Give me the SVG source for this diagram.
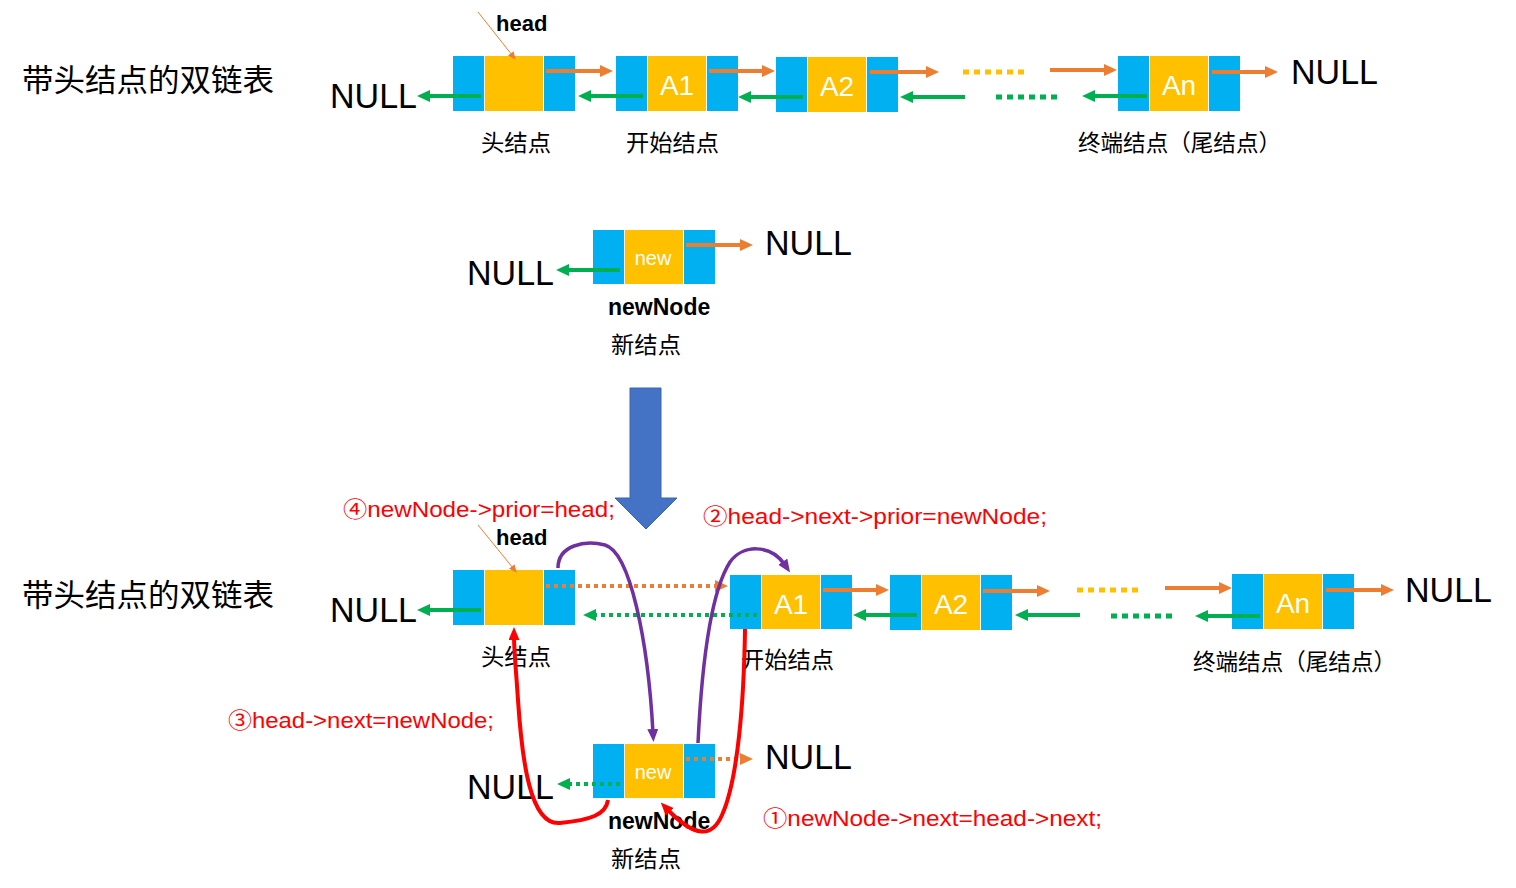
<svg xmlns="http://www.w3.org/2000/svg" width="1516" height="888" viewBox="0 0 1516 888">
<style>
.b{fill:#00B0F0}
.y{fill:#FFC000}
.cn{font-family:"Noto Sans CJK SC","Noto Sans",sans-serif;fill:#000}
.nl{font-family:"Liberation Sans",Arial,sans-serif;font-size:35px;fill:#000}
.bd{font-family:"Liberation Sans",Arial,sans-serif;font-weight:bold;fill:#000}
.wt{font-family:"Liberation Sans",Arial,sans-serif;fill:#fff}
.rd{font-family:"Liberation Sans","Noto Sans CJK SC",sans-serif;font-size:22px;fill:#FF0000}
.o{stroke:#ED7D31;stroke-width:4;fill:none}
.g{stroke:#00B050;stroke-width:4;fill:none}
.od{stroke:#ED7D31;stroke-width:4;stroke-dasharray:4 4;fill:none}
.gd{stroke:#00B050;stroke-width:4;stroke-dasharray:4 4;fill:none}
.yd{stroke:#FFC000;stroke-width:5;stroke-dasharray:6 5;fill:none}
.gdd{stroke:#00B050;stroke-width:5;stroke-dasharray:6 5;fill:none}
.pu{stroke:#7030A0;stroke-width:3.5;fill:none}
.re{stroke:#FF0000;stroke-width:4;fill:none}
.pt{stroke:#ED7D31;stroke-width:1;fill:none}
</style>
<defs>
<marker id="ma" markerUnits="userSpaceOnUse" viewBox="0 0 13 12" markerWidth="13" markerHeight="12" refX="2" refY="6" orient="auto"><path d="M0,0 L13,6 L0,12 z" fill="#ED7D31"/></marker>
<marker id="mg" markerUnits="userSpaceOnUse" viewBox="0 0 13 12" markerWidth="13" markerHeight="12" refX="2" refY="6" orient="auto"><path d="M0,0 L13,6 L0,12 z" fill="#00B050"/></marker>
<marker id="mp" markerUnits="userSpaceOnUse" viewBox="0 0 13 11" markerWidth="13" markerHeight="11" refX="4" refY="5.5" orient="auto"><path d="M0,0 L13,5.5 L0,11 z" fill="#7030A0"/></marker>
<marker id="mr" markerUnits="userSpaceOnUse" viewBox="0 0 13 11" markerWidth="13" markerHeight="11" refX="4" refY="5.5" orient="auto"><path d="M0,0 L13,5.5 L0,11 z" fill="#FF0000"/></marker>
<marker id="mt" markerUnits="userSpaceOnUse" viewBox="0 0 8 7" markerWidth="8" markerHeight="7" refX="2" refY="3.5" orient="auto"><path d="M0,0 L8,3.5 L0,7 z" fill="#ED7D31"/></marker>
</defs>

<!-- titles and labels -->
<g id="labels">
<text class="cn" x="22" y="91" font-size="31" textLength="252" lengthAdjust="spacingAndGlyphs">带头结点的双链表</text>
<text class="cn" x="22" y="606" font-size="31" textLength="252" lengthAdjust="spacingAndGlyphs">带头结点的双链表</text>
<text class="nl" x="330" y="108" textLength="87" lengthAdjust="spacingAndGlyphs">NULL</text>
<text class="nl" x="1291" y="84" textLength="87" lengthAdjust="spacingAndGlyphs">NULL</text>
<text class="nl" x="467" y="285" textLength="87" lengthAdjust="spacingAndGlyphs">NULL</text>
<text class="nl" x="765" y="255" textLength="87" lengthAdjust="spacingAndGlyphs">NULL</text>
<text class="nl" x="330" y="622" textLength="87" lengthAdjust="spacingAndGlyphs">NULL</text>
<text class="nl" x="1405" y="602" textLength="87" lengthAdjust="spacingAndGlyphs">NULL</text>
<text class="nl" x="467" y="799" textLength="87" lengthAdjust="spacingAndGlyphs">NULL</text>
<text class="nl" x="765" y="769" textLength="87" lengthAdjust="spacingAndGlyphs">NULL</text>
<text class="cn" x="481" y="151" font-size="23" textLength="70" lengthAdjust="spacingAndGlyphs">头结点</text>
<text class="cn" x="626" y="151" font-size="23" textLength="93" lengthAdjust="spacingAndGlyphs">开始结点</text>
<text class="cn" x="1078" y="151" font-size="23" textLength="203" lengthAdjust="spacingAndGlyphs">终端结点（尾结点）</text>
<text class="cn" x="481" y="665" font-size="23" textLength="70" lengthAdjust="spacingAndGlyphs">头结点</text>
<text class="cn" x="741" y="668" font-size="23" textLength="93" lengthAdjust="spacingAndGlyphs">开始结点</text>
<text class="cn" x="1193" y="670" font-size="23" textLength="203" lengthAdjust="spacingAndGlyphs">终端结点（尾结点）</text>
<text class="bd" x="496" y="31" font-size="22">head</text>
<text class="bd" x="496" y="545" font-size="22">head</text>
<text class="bd" x="608" y="315" font-size="23">newNode</text>
<text class="bd" x="608" y="829" font-size="23">newNode</text>
<text class="cn" x="611" y="353" font-size="23" textLength="70" lengthAdjust="spacingAndGlyphs">新结点</text>
<text class="cn" x="611" y="867" font-size="23" textLength="70" lengthAdjust="spacingAndGlyphs">新结点</text>
<text class="rd" x="343" y="517" textLength="272" lengthAdjust="spacingAndGlyphs">④newNode-&gt;prior=head;</text>
<text class="rd" x="703" y="524" textLength="344" lengthAdjust="spacingAndGlyphs">②head-&gt;next-&gt;prior=newNode;</text>
<text class="rd" x="228" y="728" textLength="266" lengthAdjust="spacingAndGlyphs">③head-&gt;next=newNode;</text>
<text class="rd" x="763" y="826" textLength="339" lengthAdjust="spacingAndGlyphs">①newNode-&gt;next=head-&gt;next;</text>
</g>

<!-- top row nodes -->
<g id="head1"><rect class="b" x="453" y="56" width="31" height="55"/><rect class="y" x="485" y="56" width="58" height="55"/><rect class="b" x="544" y="56" width="31" height="55"/></g>
<g id="a1_1"><rect class="b" x="616" y="56" width="31" height="55"/><rect class="y" x="648" y="56" width="58" height="55"/><rect class="b" x="707" y="56" width="31" height="55"/><text class="wt" x="677" y="95" font-size="28" text-anchor="middle">A1</text></g>
<g id="a2_1"><rect class="b" x="776" y="57" width="31" height="55"/><rect class="y" x="808" y="57" width="58" height="55"/><rect class="b" x="867" y="57" width="31" height="55"/><text class="wt" x="837" y="96" font-size="28" text-anchor="middle">A2</text></g>
<g id="an_1"><rect class="b" x="1118" y="56" width="31" height="55"/><rect class="y" x="1150" y="56" width="58" height="55"/><rect class="b" x="1209" y="56" width="31" height="55"/><text class="wt" x="1179" y="95" font-size="28" text-anchor="middle">An</text></g>

<!-- middle new node -->
<g id="new1"><rect class="b" x="593" y="230" width="31" height="54"/><rect class="y" x="625" y="230" width="58" height="54"/><rect class="b" x="684" y="230" width="31" height="54"/><text class="wt" x="653" y="265" font-size="20" text-anchor="middle">new</text></g>

<!-- big down arrow -->
<g id="bigarrow"><path d="M630,388 L661,388 L661,498 L677,498 L646,529 L615,498 L630,498 Z" fill="#4472C4" stroke="#3A64B0" stroke-width="1"/></g>

<!-- bottom row nodes -->
<g id="head2"><rect class="b" x="453" y="570" width="31" height="55"/><rect class="y" x="485" y="570" width="58" height="55"/><rect class="b" x="544" y="570" width="31" height="55"/></g>
<g id="a1_2"><rect class="b" x="730" y="575" width="31" height="54"/><rect class="y" x="762" y="575" width="58" height="54"/><rect class="b" x="821" y="575" width="31" height="54"/><text class="wt" x="791" y="614" font-size="28" text-anchor="middle">A1</text></g>
<g id="a2_2"><rect class="b" x="890" y="575" width="31" height="55"/><rect class="y" x="922" y="575" width="58" height="55"/><rect class="b" x="981" y="575" width="31" height="55"/><text class="wt" x="951" y="614" font-size="28" text-anchor="middle">A2</text></g>
<g id="an_2"><rect class="b" x="1232" y="574" width="31" height="55"/><rect class="y" x="1264" y="574" width="58" height="55"/><rect class="b" x="1323" y="574" width="31" height="55"/><text class="wt" x="1293" y="613" font-size="28" text-anchor="middle">An</text></g>
<g id="new2"><rect class="b" x="593" y="744" width="31" height="54"/><rect class="y" x="625" y="744" width="58" height="54"/><rect class="b" x="684" y="744" width="31" height="54"/><text class="wt" x="653" y="779" font-size="20" text-anchor="middle">new</text></g>

<!-- connectors -->
<g id="connectors">
<line class="pt" x1="478" y1="12" x2="512" y2="55" marker-end="url(#mt)"/>
<line class="o" x1="546" y1="71" x2="602" y2="71" marker-end="url(#ma)"/>
<line class="o" x1="709" y1="71" x2="764" y2="71" marker-end="url(#ma)"/>
<line class="o" x1="870" y1="72" x2="928" y2="72" marker-end="url(#ma)"/>
<line class="yd" x1="963" y1="72" x2="1029" y2="72"/>
<line class="o" x1="1050" y1="70" x2="1106" y2="70" marker-end="url(#ma)"/>
<line class="o" x1="1212" y1="72" x2="1267" y2="72" marker-end="url(#ma)"/>
<line class="g" x1="481" y1="96" x2="428" y2="96" marker-end="url(#mg)"/>
<line class="g" x1="643" y1="96" x2="589" y2="96" marker-end="url(#mg)"/>
<line class="g" x1="803" y1="97" x2="749" y2="97" marker-end="url(#mg)"/>
<line class="g" x1="965" y1="97" x2="911" y2="97" marker-end="url(#mg)"/>
<line class="gdd" x1="996" y1="97" x2="1062" y2="97"/>
<line class="g" x1="1147" y1="96" x2="1093" y2="96" marker-end="url(#mg)"/>
<line class="o" x1="686" y1="245" x2="742" y2="245" marker-end="url(#ma)"/>
<line class="g" x1="620" y1="270" x2="567" y2="270" marker-end="url(#mg)"/>
<line class="pt" x1="478" y1="525" x2="513" y2="568" marker-end="url(#mt)"/>
<line class="g" x1="481" y1="610" x2="428" y2="610" marker-end="url(#mg)"/>
<line class="od" x1="546" y1="586" x2="717" y2="586" marker-end="url(#ma)"/>
<line class="gd" x1="757" y1="615" x2="594" y2="615" marker-end="url(#mg)"/>
<line class="o" x1="823" y1="590" x2="878" y2="590" marker-end="url(#ma)"/>
<line class="o" x1="983" y1="591" x2="1039" y2="591" marker-end="url(#ma)"/>
<line class="yd" x1="1077" y1="590" x2="1142" y2="590"/>
<line class="o" x1="1165" y1="588" x2="1221" y2="588" marker-end="url(#ma)"/>
<line class="o" x1="1326" y1="590" x2="1383" y2="590" marker-end="url(#ma)"/>
<line class="g" x1="917" y1="615" x2="864" y2="615" marker-end="url(#mg)"/>
<line class="g" x1="1080" y1="615" x2="1026" y2="615" marker-end="url(#mg)"/>
<line class="gdd" x1="1111" y1="616" x2="1176" y2="616"/>
<line class="g" x1="1260" y1="616" x2="1206" y2="616" marker-end="url(#mg)"/>
<line class="od" x1="686" y1="759" x2="742" y2="759" marker-end="url(#ma)"/>
<line class="gd" x1="620" y1="784" x2="568" y2="784" marker-end="url(#mg)"/>
<path class="pu" d="M558,568 C558,545 585,540 605,545 C630,552 648,640 653,733" marker-end="url(#mp)"/>
<path class="pu" d="M698,743 C702,660 712,590 730,562 C742,545 770,543 785,565" marker-end="url(#mp)"/>
<path class="re" d="M608,800 C606,815 590,820 560,823 C530,826 522,760 518,700 C516,670 514,650 514,636" marker-end="url(#mr)"/>
<path class="re" d="M745,629 C744,700 738,780 722,815 C712,838 695,838 667,809" marker-end="url(#mr)"/>
</g>
</svg>
